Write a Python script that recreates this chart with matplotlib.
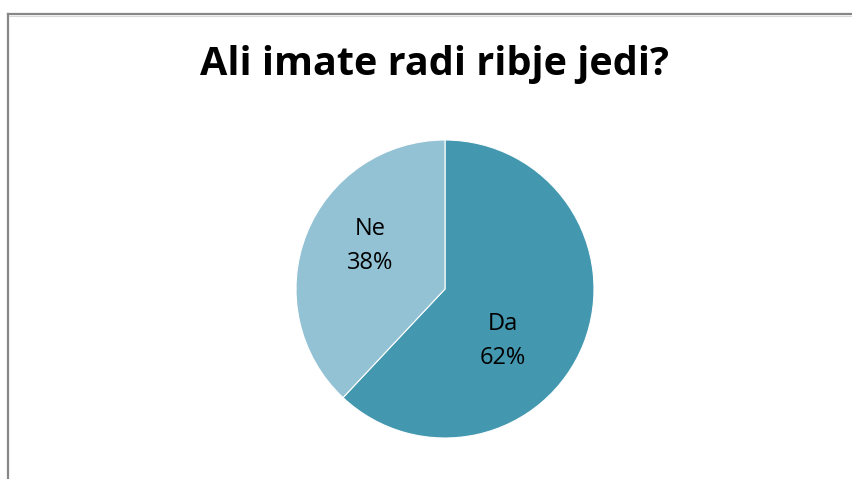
import matplotlib
matplotlib.use("Agg")
import matplotlib.pyplot as plt
from matplotlib.lines import Line2D

# survey answers
labels = ["Da", "Ne"]
shares = [62, 38]
colors = ["#4398B0", "#93C2D4"]
title = "Ali imate radi ribje jedi?"

W, H = 852, 479
fig = plt.figure(figsize=(W / 100, H / 100), dpi=100)
fig.patch.set_facecolor("white")

# chart frame: only the left and top edges are visible
fig.add_artist(Line2D([8 / W, 8 / W], [0, 1 - 14 / H], color="#878787", lw=1.6))
fig.add_artist(Line2D([8 / W, 1], [1 - 14 / H, 1 - 14 / H], color="#878787", lw=1.6))
fig.add_artist(Line2D([9 / W, 1], [1 - 16 / H, 1 - 16 / H], color="#dadada", lw=0.8))

fig.text(434 / W, 1 - 64 / H, title, ha="center", va="center",
         fontsize=28.5, fontweight="bold", family="Open Sans", color="black")

cx, cy, r = 445, 289, 149
ax = fig.add_axes([(cx - r) / W, (H - cy - r) / H, 2 * r / W, 2 * r / H])
wedges, texts, autotexts = ax.pie(
    shares, colors=colors, startangle=90, counterclock=False,
    autopct="%1.0f%%", radius=1,
    wedgeprops=dict(edgecolor="white", linewidth=0.8))
ax.set_xlim(-1, 1)
ax.set_ylim(-1, 1)
ax.set_aspect("equal")
ax.axis("off")

label_pos = [(0.39, -0.35), (-0.50, 0.29)]
for lab, at, pos in zip(labels, autotexts, label_pos):
    at.set_text(lab + "\n" + at.get_text())
    at.set_position(pos)
    at.set_ha("center")
    at.set_va("center")
    at.set_fontsize(17)
    at.set_family("Open Sans")
    at.set_linespacing(1.55)

fig.savefig("out.png", dpi=100)
